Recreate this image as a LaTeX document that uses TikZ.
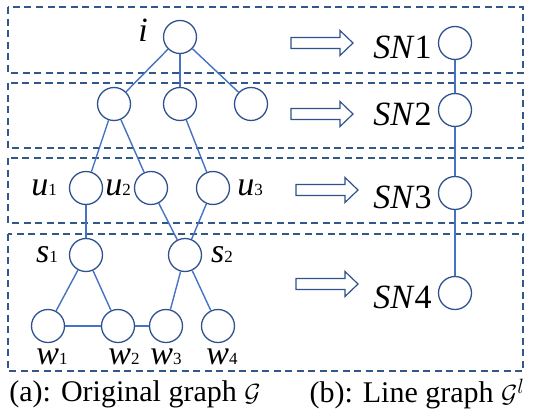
\documentclass[tikz,border=0pt]{standalone}
\usepackage{fontspec}
\setmainfont{Liberation Serif}
\usepackage{tikz}
\usetikzlibrary{positioning}
\definecolor{nodeblue}{RGB}{47,82,143}
\definecolor{edgeblue}{RGB}{68,114,196}
\definecolor{dashblue}{RGB}{50,88,138}
\newcommand{\vlab}[2]{\textit{#1}{\fontsize{17}{17}\selectfont #2}}

\begin{document}
\begin{tikzpicture}[
x=1pt, y=-1pt,
font=\fontsize{34}{40}\selectfont,
vtx/.style={circle, draw=nodeblue, line width=1.3pt, fill=white, minimum size=33pt, inner sep=0pt},
link/.style={draw=edgeblue, line width=1.4pt},
row/.style={draw=dashblue, line width=1.3pt, dash pattern=on 7pt off 4.5pt},
hollow/.pic={\draw[nodeblue, line width=1.2pt, fill=white, line join=miter]
  (-31,-5.5) -- (18,-5.5) -- (18,-12.5) -- (31,0) -- (18,12.5) -- (18,5.5) -- (-31,5.5) -- cycle;},
lbl/.style={inner sep=0pt},
snlbl/.style={inner sep=0pt, yshift=-4pt},
captext/.style={font=\fontsize{30}{34}\selectfont, inner sep=0pt}
]
\useasboundingbox (0,0) rectangle (546,415);

% layer boxes
\draw[row] (8,7) rectangle (523,73);
\draw[row] (8,83) rectangle (523,148);
\draw[row] (8,158) rectangle (523,223);
\draw[row] (8,234) rectangle (523,371);

% original graph
\node[vtx] (i) at (180,37) {};
\node[vtx] (a) at (114,104) {};
\node[vtx] (b) at (180,104) {};
\node[vtx] (c) at (251,104) {};
\node[vtx] (u1) at (86,188) {};
\node[vtx] (u2) at (151,188) {};
\node[vtx] (u3) at (213,188) {};
\node[vtx] (s1) at (86,255) {};
\node[vtx] (s2) at (185,255) {};
\node[vtx] (w1) at (48,326) {};
\node[vtx] (w2) at (118,326) {};
\node[vtx] (w3) at (166,326) {};
\node[vtx] (w4) at (218,326) {};

\draw[link] (i) -- (a);
\draw[link] (i) -- (b);
\draw[link] (i) -- (c);
\draw[link] (a) -- (u1);
\draw[link] (a) -- (u2);
\draw[link] (b) -- (u3);
\draw[link] (u1) -- (s1);
\draw[link] (u2) -- (s2);
\draw[link] (u3) -- (s2);
\draw[link] (s1) -- (w1);
\draw[link] (s1) -- (w2);
\draw[link] (w1) -- (w2);
\draw[link] (w2) -- (w3);
\draw[link] (s2) -- (w3);
\draw[link] (s2) -- (w4);

\node[lbl] (li) at (143,30) {\textit{i}};
\node[lbl] (lu1) at (44,188) {\vlab{u}{1}};
\node[lbl] (lu2) at (118,188) {\vlab{u}{2}};
\node[lbl] (lu3) at (250,188) {\vlab{u}{3}};
\node[lbl] (ls1) at (47,255) {\vlab{s}{1}};
\node[lbl] (ls2) at (222,255) {\vlab{s}{2}};
\node[lbl] (lw1) at (52,357) {\vlab{w}{1}};
\node[lbl] (lw2) at (124,357) {\vlab{w}{2}};
\node[lbl] (lw3) at (166,357) {\vlab{w}{3}};
\node[lbl] (lw4) at (222,357) {\vlab{w}{4}};

% line graph
\pic (ar1) at (322,43) {hollow};
\pic (ar2) at (322,114) {hollow};
\pic (ar3) at (327,190) {hollow};
\pic (ar4) at (327,284) {hollow};

\node[vtx] (sn1) at (455,43) {};
\node[vtx] (sn2) at (455,110) {};
\node[vtx] (sn3) at (455,193) {};
\node[vtx] (sn4) at (455,293) {};
\node[snlbl, left=6pt of sn1] (lsn1) {\textit{SN}1};
\node[snlbl, left=6pt of sn2] (lsn2) {\textit{SN}2};
\node[snlbl, left=6pt of sn3] (lsn3) {\textit{SN}3};
\node[snlbl, left=6pt of sn4] (lsn4) {\textit{SN}4};

\draw[link] (sn1) -- (sn2);
\draw[link] (sn2) -- (sn3);
\draw[link] (sn3) -- (sn4);

% captions
\node[captext] (capa) at (135,394) {(a): Original graph $\mathcal{G}$};
\node[captext] (capb) at (417,394) {(b): Line graph $\mathcal{G}^l$};
\end{tikzpicture}
\end{document}
